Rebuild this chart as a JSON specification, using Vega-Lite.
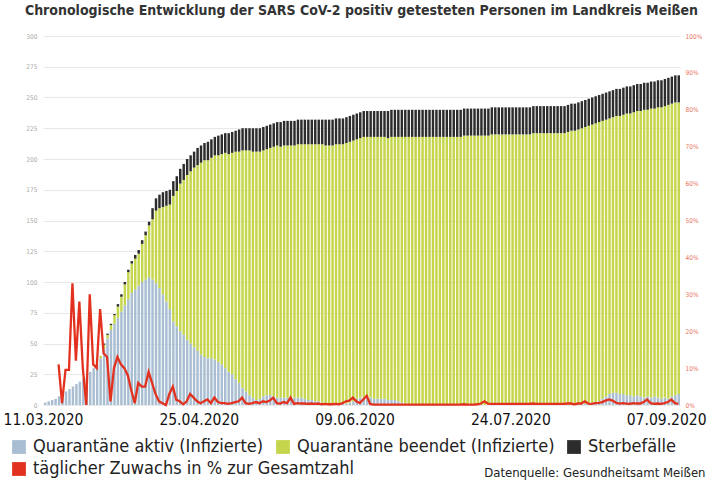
{
"$schema":"https://vega.github.io/schema/vega-lite/v6.json",
"width":637,"height":369,
"autosize":{"type":"none"},
"padding":{"left":43,"top":36,"right":33,"bottom":78},
"background":"white",
"config":{"font":"DejaVu Sans Condensed, Liberation Sans, sans-serif","view":{"stroke":null}},
"title":{"text":"Chronologische Entwicklung der SARS CoV-2 positiv getesteten Personen im Landkreis Meißen","font":"DejaVu Sans Condensed, Liberation Sans, sans-serif","fontSize":14,"fontWeight":"bold","color":"#333333","anchor":"middle","offset":15},
"data":{"values":[
{"d":"2020-03-11","a":2,"b":0,"t":0},
{"d":"2020-03-12","a":3,"b":0,"t":0},
{"d":"2020-03-13","a":4,"b":0,"t":0},
{"d":"2020-03-14","a":5,"b":0,"t":0},
{"d":"2020-03-15","a":7,"b":0,"t":0,"z":11},
{"d":"2020-03-16","a":8,"b":0,"t":0,"z":0.5},
{"d":"2020-03-17","a":11,"b":0,"t":0,"z":9.5},
{"d":"2020-03-18","a":13,"b":0,"t":0,"z":9.5},
{"d":"2020-03-19","a":15,"b":0,"t":0,"z":33},
{"d":"2020-03-20","a":17,"b":0,"t":0,"z":12},
{"d":"2020-03-21","a":19,"b":0,"t":0,"z":28},
{"d":"2020-03-22","a":21,"b":0,"t":0,"z":10},
{"d":"2020-03-23","a":23,"b":0,"t":0,"z":0},
{"d":"2020-03-24","a":27,"b":0,"t":0,"z":30},
{"d":"2020-03-25","a":30,"b":0,"t":0,"z":11},
{"d":"2020-03-26","a":33,"b":0,"t":0,"z":10},
{"d":"2020-03-27","a":38,"b":2,"t":0,"z":26},
{"d":"2020-03-28","a":46,"b":3,"t":1,"z":14},
{"d":"2020-03-29","a":54,"b":3,"t":1,"z":13},
{"d":"2020-03-30","a":61,"b":4,"t":1,"z":1},
{"d":"2020-03-31","a":66,"b":7,"t":1,"z":10},
{"d":"2020-04-01","a":71,"b":9,"t":2,"z":13},
{"d":"2020-04-02","a":76,"b":12,"t":2,"z":11},
{"d":"2020-04-03","a":81,"b":17,"t":2,"z":10},
{"d":"2020-04-04","a":86,"b":22,"t":2,"z":8},
{"d":"2020-04-05","a":91,"b":24,"t":2,"z":4},
{"d":"2020-04-06","a":94,"b":25,"t":3,"z":0.5},
{"d":"2020-04-07","a":97,"b":26,"t":3,"z":6},
{"d":"2020-04-08","a":100,"b":31,"t":3,"z":5},
{"d":"2020-04-09","a":102,"b":36,"t":3,"z":5},
{"d":"2020-04-10","a":104,"b":42,"t":3,"z":9},
{"d":"2020-04-11","a":102,"b":49,"t":9,"z":6},
{"d":"2020-04-12","a":99,"b":59,"t":10,"z":3},
{"d":"2020-04-13","a":95,"b":65,"t":11,"z":1},
{"d":"2020-04-14","a":90,"b":71,"t":12,"z":0.5},
{"d":"2020-04-15","a":84,"b":78,"t":12,"z":0},
{"d":"2020-04-16","a":78,"b":85,"t":12,"z":3},
{"d":"2020-04-17","a":68,"b":102,"t":12,"z":5},
{"d":"2020-04-18","a":64,"b":110,"t":12,"z":1.4},
{"d":"2020-04-19","a":60,"b":120,"t":12,"z":1},
{"d":"2020-04-20","a":57,"b":126,"t":13,"z":0.2},
{"d":"2020-04-21","a":53,"b":134,"t":13,"z":1},
{"d":"2020-04-22","a":50,"b":140,"t":13,"z":3},
{"d":"2020-04-23","a":47,"b":146,"t":13,"z":2},
{"d":"2020-04-24","a":44,"b":151,"t":14,"z":1},
{"d":"2020-04-25","a":41,"b":156,"t":14,"z":0.5},
{"d":"2020-04-26","a":39,"b":160,"t":14,"z":1},
{"d":"2020-04-27","a":38,"b":161,"t":15,"z":1.5},
{"d":"2020-04-28","a":38,"b":163,"t":15,"z":0.5},
{"d":"2020-04-29","a":37,"b":166,"t":15,"z":2},
{"d":"2020-04-30","a":35,"b":168,"t":16,"z":0.8},
{"d":"2020-05-01","a":33,"b":171,"t":16,"z":0.5},
{"d":"2020-05-02","a":30,"b":175,"t":16,"z":0.5},
{"d":"2020-05-03","a":27,"b":177,"t":17,"z":0.3},
{"d":"2020-05-04","a":25,"b":180,"t":17,"z":0.5},
{"d":"2020-05-05","a":21,"b":185,"t":17,"z":0.8},
{"d":"2020-05-06","a":18,"b":188,"t":18,"z":1},
{"d":"2020-05-07","a":14,"b":193,"t":18,"z":2},
{"d":"2020-05-08","a":11,"b":196,"t":18,"z":0.5},
{"d":"2020-05-09","a":8,"b":199,"t":18,"z":0.3},
{"d":"2020-05-10","a":6,"b":200,"t":19,"z":0.5},
{"d":"2020-05-11","a":4,"b":202,"t":19,"z":0.8},
{"d":"2020-05-12","a":5,"b":201,"t":19,"z":0.5},
{"d":"2020-05-13","a":7,"b":200,"t":19,"z":1},
{"d":"2020-05-14","a":8,"b":200,"t":19,"z":0.8},
{"d":"2020-05-15","a":8,"b":201,"t":19,"z":1.2},
{"d":"2020-05-16","a":7,"b":203,"t":19,"z":2},
{"d":"2020-05-17","a":6,"b":205,"t":19,"z":0.5},
{"d":"2020-05-18","a":6,"b":204,"t":20,"z":0.4},
{"d":"2020-05-19","a":6,"b":205,"t":20,"z":0.8},
{"d":"2020-05-20","a":6,"b":205,"t":20,"z":0.5},
{"d":"2020-05-21","a":6,"b":205,"t":20,"z":2},
{"d":"2020-05-22","a":6,"b":205,"t":20,"z":0.3},
{"d":"2020-05-23","a":6,"b":206,"t":20,"z":0.5},
{"d":"2020-05-24","a":6,"b":206,"t":20,"z":0.4},
{"d":"2020-05-25","a":5,"b":207,"t":20,"z":0.4},
{"d":"2020-05-26","a":4,"b":208,"t":20,"z":0.3},
{"d":"2020-05-27","a":4,"b":208,"t":20,"z":0.4},
{"d":"2020-05-28","a":3,"b":209,"t":20,"z":0.3},
{"d":"2020-05-29","a":3,"b":209,"t":20,"z":0.4},
{"d":"2020-05-30","a":2,"b":210,"t":20,"z":0.2},
{"d":"2020-05-31","a":1,"b":210,"t":21,"z":0.3},
{"d":"2020-06-01","a":0,"b":211,"t":21,"z":0.2},
{"d":"2020-06-02","a":0,"b":211,"t":21,"z":0.2},
{"d":"2020-06-03","a":0,"b":212,"t":21,"z":0.3},
{"d":"2020-06-04","a":0,"b":212,"t":21,"z":0.2},
{"d":"2020-06-05","a":1,"b":211,"t":21,"z":0.5},
{"d":"2020-06-06","a":1,"b":212,"t":21,"z":1},
{"d":"2020-06-07","a":2,"b":212,"t":21,"z":1.2},
{"d":"2020-06-08","a":3,"b":212,"t":21,"z":2},
{"d":"2020-06-09","a":5,"b":211,"t":21,"z":1},
{"d":"2020-06-10","a":6,"b":211,"t":21,"z":0.5},
{"d":"2020-06-11","a":6,"b":212,"t":21,"z":1.5},
{"d":"2020-06-12","a":6,"b":212,"t":21,"z":2.5},
{"d":"2020-06-13","a":6,"b":212,"t":21,"z":0.3},
{"d":"2020-06-14","a":5,"b":213,"t":21,"z":0.1},
{"d":"2020-06-15","a":5,"b":213,"t":21,"z":0.1},
{"d":"2020-06-16","a":5,"b":213,"t":21,"z":0.1},
{"d":"2020-06-17","a":5,"b":213,"t":21,"z":0.1},
{"d":"2020-06-18","a":4,"b":213,"t":22,"z":0.1},
{"d":"2020-06-19","a":4,"b":214,"t":22,"z":0.1},
{"d":"2020-06-20","a":4,"b":214,"t":22,"z":0.1},
{"d":"2020-06-21","a":3,"b":215,"t":22,"z":0.1},
{"d":"2020-06-22","a":2,"b":216,"t":22,"z":0.1},
{"d":"2020-06-23","a":1,"b":217,"t":22,"z":0.1},
{"d":"2020-06-24","a":0,"b":218,"t":22,"z":0.1},
{"d":"2020-06-25","a":0,"b":218,"t":22,"z":0.1},
{"d":"2020-06-26","a":0,"b":218,"t":22,"z":0.1},
{"d":"2020-06-27","a":0,"b":218,"t":22,"z":0.1},
{"d":"2020-06-28","a":0,"b":218,"t":22,"z":0.1},
{"d":"2020-06-29","a":0,"b":218,"t":22,"z":0.1},
{"d":"2020-06-30","a":0,"b":218,"t":22,"z":0.1},
{"d":"2020-07-01","a":0,"b":218,"t":22,"z":0.1},
{"d":"2020-07-02","a":0,"b":218,"t":22,"z":0.1},
{"d":"2020-07-03","a":0,"b":218,"t":22,"z":0.1},
{"d":"2020-07-04","a":0,"b":218,"t":22,"z":0.1},
{"d":"2020-07-05","a":0,"b":218,"t":22,"z":0.1},
{"d":"2020-07-06","a":0,"b":218,"t":22,"z":0.1},
{"d":"2020-07-07","a":0,"b":218,"t":22,"z":0.1},
{"d":"2020-07-08","a":0,"b":218,"t":22,"z":0.1},
{"d":"2020-07-09","a":0,"b":218,"t":22,"z":0.1},
{"d":"2020-07-10","a":0,"b":219,"t":22,"z":0.2},
{"d":"2020-07-11","a":0,"b":219,"t":22,"z":0.1},
{"d":"2020-07-12","a":0,"b":219,"t":22,"z":0.1},
{"d":"2020-07-13","a":0,"b":219,"t":22,"z":0.1},
{"d":"2020-07-14","a":0,"b":219,"t":22,"z":0.2},
{"d":"2020-07-15","a":0,"b":219,"t":22,"z":0.4},
{"d":"2020-07-16","a":0,"b":219,"t":22,"z":1},
{"d":"2020-07-17","a":0,"b":219,"t":22,"z":0.4},
{"d":"2020-07-18","a":0,"b":220,"t":22,"z":0.3},
{"d":"2020-07-19","a":0,"b":220,"t":22,"z":0.3},
{"d":"2020-07-20","a":0,"b":220,"t":22,"z":0.3},
{"d":"2020-07-21","a":0,"b":220,"t":22,"z":0.3},
{"d":"2020-07-22","a":0,"b":220,"t":22,"z":0.3},
{"d":"2020-07-23","a":0,"b":220,"t":22,"z":0.3},
{"d":"2020-07-24","a":0,"b":220,"t":22,"z":0.3},
{"d":"2020-07-25","a":0,"b":220,"t":22,"z":0.3},
{"d":"2020-07-26","a":0,"b":220,"t":22,"z":0.3},
{"d":"2020-07-27","a":0,"b":220,"t":22,"z":0.3},
{"d":"2020-07-28","a":0,"b":220,"t":22,"z":0.3},
{"d":"2020-07-29","a":0,"b":220,"t":22,"z":0.3},
{"d":"2020-07-30","a":0,"b":221,"t":22,"z":0.4},
{"d":"2020-07-31","a":0,"b":221,"t":22,"z":0.3},
{"d":"2020-08-01","a":0,"b":221,"t":22,"z":0.3},
{"d":"2020-08-02","a":0,"b":221,"t":22,"z":0.3},
{"d":"2020-08-03","a":0,"b":221,"t":22,"z":0.3},
{"d":"2020-08-04","a":0,"b":221,"t":22,"z":0.3},
{"d":"2020-08-05","a":0,"b":221,"t":22,"z":0.3},
{"d":"2020-08-06","a":0,"b":221,"t":22,"z":0.3},
{"d":"2020-08-07","a":0,"b":221,"t":22,"z":0.3},
{"d":"2020-08-08","a":0,"b":221,"t":22,"z":0.3},
{"d":"2020-08-09","a":0,"b":222,"t":22,"z":0.4},
{"d":"2020-08-10","a":0,"b":223,"t":22,"z":0.4},
{"d":"2020-08-11","a":0,"b":223,"t":22,"z":0.2},
{"d":"2020-08-12","a":0,"b":224,"t":22,"z":0.4},
{"d":"2020-08-13","a":1,"b":224,"t":22,"z":0.4},
{"d":"2020-08-14","a":1,"b":225,"t":22,"z":1},
{"d":"2020-08-15","a":2,"b":225,"t":22,"z":0.4},
{"d":"2020-08-16","a":2,"b":226,"t":22,"z":0.3},
{"d":"2020-08-17","a":2,"b":227,"t":22,"z":0.5},
{"d":"2020-08-18","a":3,"b":227,"t":22,"z":0.6},
{"d":"2020-08-19","a":5,"b":226,"t":22,"z":0.8},
{"d":"2020-08-20","a":7,"b":225,"t":22,"z":1.2},
{"d":"2020-08-21","a":9,"b":224,"t":22,"z":1.5},
{"d":"2020-08-22","a":10,"b":224,"t":22,"z":1.2},
{"d":"2020-08-23","a":10,"b":225,"t":22,"z":0.6},
{"d":"2020-08-24","a":9,"b":226,"t":22,"z":0.4},
{"d":"2020-08-25","a":9,"b":227,"t":22,"z":0.5},
{"d":"2020-08-26","a":8,"b":229,"t":22,"z":0.4},
{"d":"2020-08-27","a":8,"b":229,"t":22,"z":0.3},
{"d":"2020-08-28","a":7,"b":231,"t":22,"z":0.5},
{"d":"2020-08-29","a":8,"b":231,"t":22,"z":0.4},
{"d":"2020-08-30","a":7,"b":232,"t":22,"z":0.4},
{"d":"2020-08-31","a":6,"b":234,"t":22,"z":0.8},
{"d":"2020-09-01","a":7,"b":233,"t":22,"z":1.5},
{"d":"2020-09-02","a":6,"b":235,"t":22,"z":0.5},
{"d":"2020-09-03","a":7,"b":234,"t":22,"z":0.3},
{"d":"2020-09-04","a":6,"b":236,"t":22,"z":0.4},
{"d":"2020-09-05","a":5,"b":237,"t":22,"z":0.3},
{"d":"2020-09-06","a":6,"b":237,"t":22,"z":0.5},
{"d":"2020-09-07","a":5,"b":239,"t":22,"z":0.8},
{"d":"2020-09-08","a":7,"b":238,"t":22,"z":1.5},
{"d":"2020-09-09","a":8,"b":238,"t":22,"z":0.5},
{"d":"2020-09-10","a":9,"b":237,"t":22,"z":0.3}
]},
"layer":[
{"transform":[{"fold":["a","b","t"],"as":["k","v"]}],
"mark":{"type":"bar","timeUnitBandSize":0.9},
"encoding":{
"x":{"field":"d","timeUnit":"utcyearmonthdate","type":"temporal",
"scale":{"domain":[{"year":2020,"month":3,"date":11,"utc":true},{"year":2020,"month":9,"date":11,"utc":true}]},
"axis":{"values":[{"year":2020,"month":3,"date":11,"utc":true},{"year":2020,"month":4,"date":25,"utc":true},{"year":2020,"month":6,"date":9,"utc":true},{"year":2020,"month":7,"date":24,"utc":true},{"year":2020,"month":9,"date":7,"utc":true}],
"format":"%d.%m.%Y","labelFlush":false,"labelFontSize":15.5,"labelColor":"#111111","labelPadding":7,"domain":false,"ticks":false,"grid":false,
"title":"Datenquelle: Gesundheitsamt Meißen","titleFontSize":13,"titleFontWeight":"normal","titleColor":"#222222","titleAnchor":"end","titleAlign":"right","titleX":662,"titleY":67,"titleBaseline":"middle"}},
"y":{"field":"v","type":"quantitative","stack":"zero","scale":{"domain":[0,300],"nice":false},
"axis":{"values":[0,25,50,75,100,125,150,175,200,225,250,275,300],"labelFontSize":6.5,"labelColor":"#aaaaaa","labelPadding":6,"grid":true,"gridColor":"#e8e8e8","domain":false,"ticks":false,"title":null}},
"color":{"field":"k","type":"nominal","scale":{"domain":["a","b","t"],"range":["#a9bed2","#c5d64c","#2c2c2c"]},
"legend":{"orient":"none","legendX":-33,"legendY":402,"direction":"horizontal","columns":3,"title":null,"symbolType":"square","symbolSize":190,"symbolStrokeWidth":0,"labelFontSize":18,"labelColor":"#222222","labelLimit":400,"labelOffset":5,"columnPadding":10,
"labelExpr":"{'a':'Quarantäne aktiv (Infizierte)','b':'Quarantäne beendet (Infizierte)','t':'Sterbefälle'}[datum.label]"}},
"order":{"field":"k"}
}},
{"mark":{"type":"line","strokeWidth":2.3,"interpolate":"linear"},
"encoding":{
"x":{"field":"d","timeUnit":"utcyearmonthdate","type":"temporal","bandPosition":0.5},
"y":{"field":"z","type":"quantitative","scale":{"domain":[0,100],"nice":false},
"axis":{"orient":"right","values":[0,10,20,30,40,50,60,70,80,90,100],"labelExpr":"datum.value + '%'","labelFontSize":6.5,"labelColor":"#e8735f","labelPadding":5,"grid":false,"domain":false,"ticks":false,"title":null}},
"stroke":{"datum":"z","type":"nominal","scale":{"domain":["z"],"range":["#e2321f"]},
"legend":{"orient":"none","legendX":-33,"legendY":424,"title":null,"symbolType":"square","symbolSize":190,"symbolFillColor":"#e2321f","symbolStrokeWidth":0,"labelFontSize":18,"labelColor":"#222222","labelLimit":400,"labelOffset":5,
"labelExpr":"'täglicher Zuwachs in % zur Gesamtzahl'"}}
}}
],
"resolve":{"scale":{"y":"independent"},"axis":{"y":"independent"}}
}
